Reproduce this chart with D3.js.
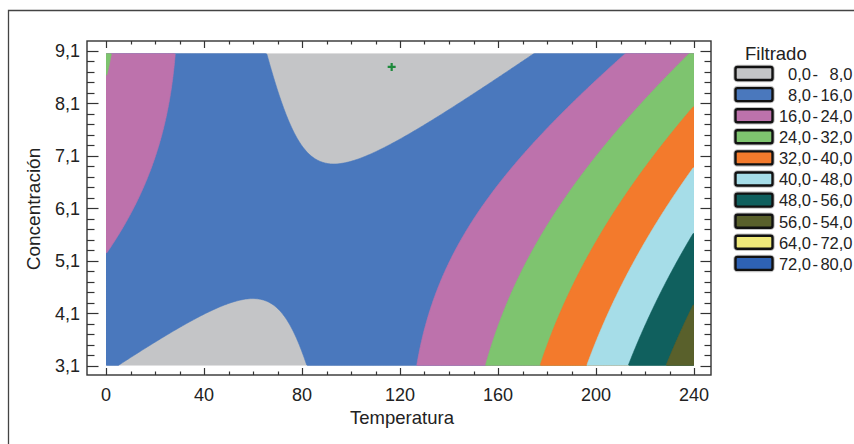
<!DOCTYPE html>
<html>
<head>
<meta charset="utf-8">
<script src="https://cdn.jsdelivr.net/npm/d3@7/dist/d3.min.js"></script>
<style>
  html, body { margin: 0; padding: 0; background: #fff; }
  svg { display: block; font-family: "Liberation Sans", Arial, sans-serif; }
</style>
</head>
<body>
<svg id="chart" width="854" height="444"></svg>
<script>
// ---------------- data ----------------
// Fitted response-surface coefficients:
// Filtrado = b0 + b1*T + b2*C + b11*T^2 + b22*C^2 + b12*T*C
const surfaceCoefficients = [-5.47, -0.0101, 5.154, 0.001465, -0.2, -0.0378];
const temperatureRange = [0, 240];
const concentrationRange = [3.1, 9.05];
const bandLower = [0, 8, 16, 24, 32, 40, 48, 56, 64, 72];
const bandColors = ["#c4c5c7", "#4a78bd", "#bd72ac", "#7ec46f", "#f37a2c",
                    "#a6dde8", "#10605e", "#59602b", "#efe97a", "#2e62b5"];
const legendFrom = ["0,0", "8,0", "16,0", "24,0", "32,0", "40,0", "48,0", "56,0", "64,0", "72,0"];
const legendTo   = ["8,0", "16,0", "24,0", "32,0", "40,0", "48,0", "56,0", "54,0", "72,0", "80,0"];
const xTickValues = [0, 40, 80, 120, 160, 200, 240];
const xTickLabels = ["0", "40", "80", "120", "160", "200", "240"];
const yTickValues = [3.1, 4.1, 5.1, 6.1, 7.1, 8.1, 9.1];
const yTickLabels = ["3,1", "4,1", "5,1", "6,1", "7,1", "8,1", "9,1"];
const optimumPoint = [116.6, 8.79];

// ---------------- drawing ----------------
const svg = d3.select("#chart");
const x = d3.scaleLinear().domain([0, 240]).range([106, 694]);
const y = d3.scaleLinear().domain([3.1, 9.1]).range([365.7, 50.6]);

// outer frame
svg.append("path").attr("d", "M8.5,460 V10.5 H870").attr("fill", "none")
  .attr("stroke", "#444").attr("stroke-width", 1.3);

function surface(t, c) {
  const b = surfaceCoefficients;
  return b[0] + b[1]*t + b[2]*c + b[3]*t*t + b[4]*c*c + b[5]*t*c;
}

const nx = 360, ny = 200;
const dx = (temperatureRange[1] - temperatureRange[0]) / nx;
const dy = (concentrationRange[1] - concentrationRange[0]) / ny;
const values = new Array(nx * ny);
for (let j = 0; j < ny; j++) {
  const cv = concentrationRange[1] - (j + 0.5) * dy;
  for (let i = 0; i < nx; i++) {
    const tv = temperatureRange[0] + (i + 0.5) * dx;
    values[j * nx + i] = surface(tv, cv);
  }
}
const contours = d3.contours().size([nx, ny]).thresholds(bandLower.slice(1))(values);
const proj = d3.geoTransform({
  point(px, py) {
    this.stream.point(x(temperatureRange[0] + px * dx), y(concentrationRange[1] - py * dy));
  }
});
const path = d3.geoPath(proj);

const clipId = "plotclip";
svg.append("clipPath").attr("id", clipId).append("rect")
  .attr("x", x(temperatureRange[0])).attr("y", y(concentrationRange[1]))
  .attr("width", x(temperatureRange[1]) - x(temperatureRange[0]))
  .attr("height", y(concentrationRange[0]) - y(concentrationRange[1]));

const plot = svg.append("g").attr("clip-path", `url(#${clipId})`);
plot.append("rect")
  .attr("x", x(temperatureRange[0])).attr("y", y(concentrationRange[1]))
  .attr("width", x(temperatureRange[1]) - x(temperatureRange[0]))
  .attr("height", y(concentrationRange[0]) - y(concentrationRange[1]))
  .attr("fill", bandColors[0]);
plot.selectAll("path.band").data(contours).join("path")
  .attr("class", "band")
  .attr("d", path)
  .attr("fill", d => bandColors[bandLower.indexOf(d.value)])
  .attr("stroke", d => bandColors[bandLower.indexOf(d.value)])
  .attr("stroke-width", 0.6);

// optimum marker
const mx = x(optimumPoint[0]), my = y(optimumPoint[1]);
svg.append("path")
  .attr("d", `M${mx-4},${my} H${mx+4} M${mx},${my-4} V${my+4}`)
  .attr("stroke", "#1e8a3c").attr("stroke-width", 2.2);

// axes frame
const L = 87, R = 711, T = 41, B = 375;
svg.append("rect").attr("x", L).attr("y", T).attr("width", R - L).attr("height", B - T)
  .attr("fill", "none").attr("stroke", "#333").attr("stroke-width", 1.4);

const axisG = svg.append("g").attr("stroke", "#333").attr("stroke-width", 1.2);
const xMinor = d3.range(0, 241, 10);
xMinor.forEach(v => {
  const major = xTickValues.includes(v);
  const len = major ? 7 : 3.5;
  const px = Math.round(x(v)) + 0.5;
  axisG.append("line").attr("x1", px).attr("x2", px).attr("y1", B).attr("y2", B - len);
  axisG.append("line").attr("x1", px).attr("x2", px).attr("y1", T).attr("y2", T + len);
});
const yMinor = d3.range(0, 31).map(k => +(3.1 + k * 0.2).toFixed(2));
yMinor.forEach(v => {
  const major = yTickValues.some(t => Math.abs(t - v) < 1e-6);
  const len = major ? 11.5 : 7.5;
  const py = Math.round(y(v)) + 0.5;
  axisG.append("line").attr("x1", L).attr("x2", L + len).attr("y1", py).attr("y2", py);
  axisG.append("line").attr("x1", R).attr("x2", R - len + 1).attr("y1", py).attr("y2", py);
});

// tick labels
svg.selectAll("text.xt").data(xTickValues).join("text")
  .attr("class", "xt")
  .attr("x", d => x(d)).attr("y", 401)
  .attr("text-anchor", "middle").attr("font-size", 18).attr("fill", "#222")
  .text((d, i) => xTickLabels[i]);
svg.selectAll("text.yt").data(yTickValues).join("text")
  .attr("class", "yt")
  .attr("x", 80).attr("y", d => y(d) + 6.5)
  .attr("text-anchor", "end").attr("font-size", 18).attr("fill", "#222")
  .text((d, i) => yTickLabels[i]);

// axis titles
svg.append("text").attr("x", 402).attr("y", 424).attr("text-anchor", "middle")
  .attr("font-size", 18.5).attr("fill", "#222").text("Temperatura");
svg.append("text").attr("transform", `translate(40,${209}) rotate(-90)`)
  .attr("text-anchor", "middle").attr("font-size", 19).attr("fill", "#222")
  .text("Concentración");

// legend
svg.append("text").attr("x", 745).attr("y", 59.5).attr("font-size", 18.5)
  .attr("fill", "#222").text("Filtrado");
const lg = svg.append("g");
bandLower.forEach((b, i) => {
  const cy = 73.5 + i * 21.1;
  lg.append("rect").attr("x", 735.5).attr("y", cy - 6.5).attr("width", 37).attr("height", 13)
    .attr("rx", 2).attr("fill", "none").attr("stroke", "#9a9a9a").attr("stroke-width", 4.5)
    .attr("opacity", 0.6);
  lg.append("rect").attr("x", 735.5).attr("y", cy - 6.5).attr("width", 37).attr("height", 13)
    .attr("rx", 2).attr("fill", bandColors[i]).attr("stroke", "#111").attr("stroke-width", 2.4);
  lg.append("text").attr("x", 811).attr("y", cy + 6.3).attr("text-anchor", "end")
    .attr("font-size", 16.5).attr("fill", "#222").text(legendFrom[i]);
  lg.append("text").attr("x", 812.5).attr("y", cy + 6.3)
    .attr("font-size", 16.5).attr("fill", "#222").text("-");
  lg.append("text").attr("x", 852.5).attr("y", cy + 6.3).attr("text-anchor", "end")
    .attr("font-size", 16.5).attr("fill", "#222").text(legendTo[i]);
});
</script>
</body>
</html>
